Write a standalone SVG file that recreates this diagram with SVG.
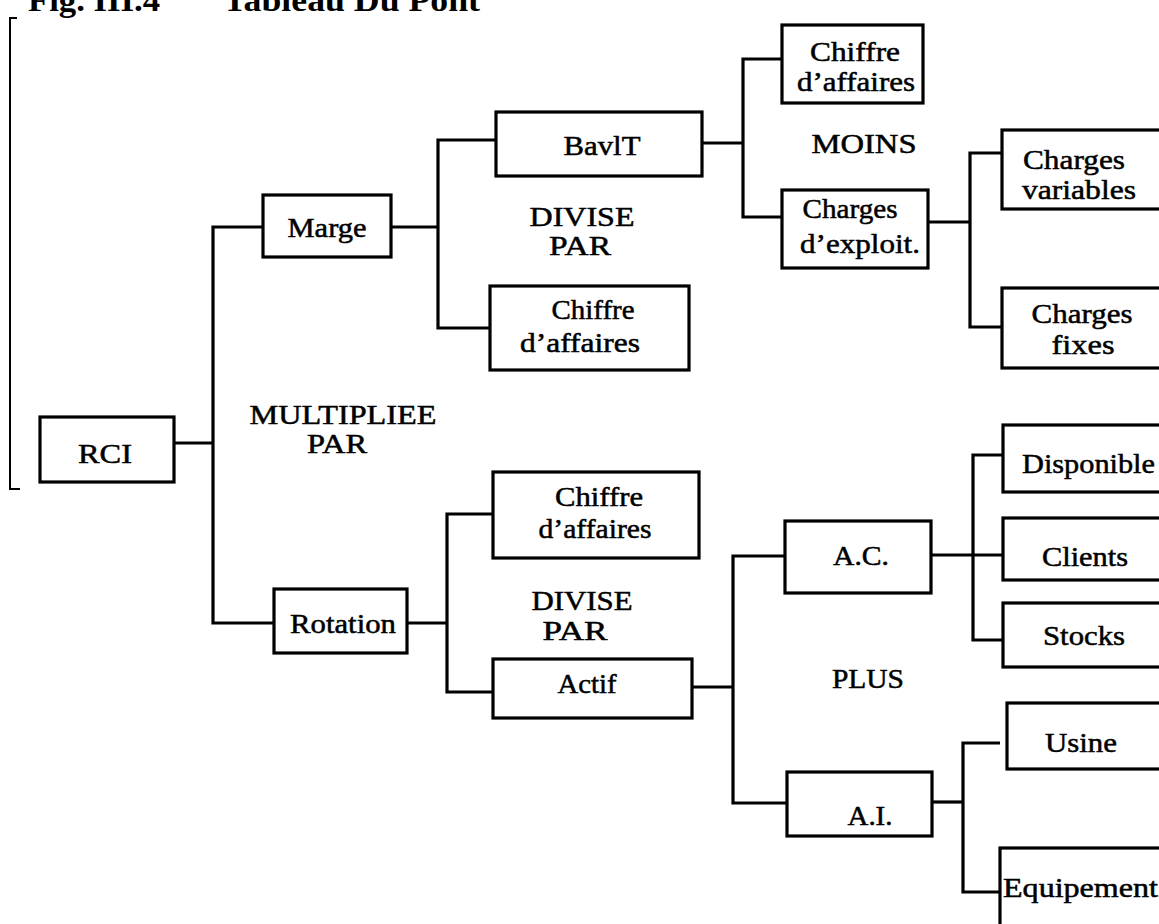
<svg xmlns="http://www.w3.org/2000/svg" width="1159" height="924" viewBox="0 0 1159 924">
<style>
.box{fill:#fff;stroke:#000;stroke-width:3.2}
.t{font-family:"Liberation Serif","Times New Roman",serif;font-size:27px;fill:#000;stroke:#000;stroke-width:0.5;text-anchor:middle}
.tl{font-family:"Liberation Serif","Times New Roman",serif;font-size:27px;fill:#000;stroke:#000;stroke-width:0.5}
.title{font-family:"Liberation Serif","Times New Roman",serif;font-size:32px;font-weight:bold;fill:#000}
.c{fill:none;stroke:#000;stroke-width:3.2}
</style>
<rect width="1159" height="924" fill="#fff"/>
<g id="title">
<text class="title" x="28" y="11" textLength="132" lengthAdjust="spacingAndGlyphs">Fig. III.4</text>
<text class="title" x="223" y="11" textLength="257" lengthAdjust="spacingAndGlyphs">Tableau Du Pont</text>
<path d="M17 18 H10 V489 H20" fill="none" stroke="#000" stroke-width="2"/>
</g>
<g id="connectors">
<path class="c" d="M174 443 H213"/>
<path class="c" d="M263 227 H213 V623 H274"/>
<path class="c" d="M391 227 H438"/>
<path class="c" d="M496 140 H438 V328 H490"/>
<path class="c" d="M407 623 H447"/>
<path class="c" d="M493 514 H447 V692 H493"/>
<path class="c" d="M702 143 H743"/>
<path class="c" d="M782 59 H743 V217 H782"/>
<path class="c" d="M928 222 H970"/>
<path class="c" d="M1002 153 H970 V327 H1002"/>
<path class="c" d="M692 687 H733"/>
<path class="c" d="M785 556 H733 V803 H787"/>
<path class="c" d="M931 555 H1003"/>
<path class="c" d="M1003 455 H973 V640 H1003"/>
<path class="c" d="M932 802 H963"/>
<path class="c" d="M1000 743 H963 V892 H1000"/>
</g>
<g id="labels">
<text class="t" x="343" y="424" textLength="187" lengthAdjust="spacingAndGlyphs">MULTIPLIEE</text>
<text class="t" x="337" y="453" textLength="60" lengthAdjust="spacingAndGlyphs">PAR</text>
<text class="t" x="582" y="226" textLength="105" lengthAdjust="spacingAndGlyphs">DIVISE</text>
<text class="t" x="580" y="255" textLength="62" lengthAdjust="spacingAndGlyphs">PAR</text>
<text class="t" x="582" y="610" textLength="101" lengthAdjust="spacingAndGlyphs">DIVISE</text>
<text class="t" x="575" y="640" textLength="65" lengthAdjust="spacingAndGlyphs">PAR</text>
<text class="t" x="864" y="153" textLength="105" lengthAdjust="spacingAndGlyphs">MOINS</text>
<text class="t" x="868" y="688" textLength="72" lengthAdjust="spacingAndGlyphs">PLUS</text>
</g>
<g id="n-rci"><rect class="box" x="40" y="417" width="134" height="65"/><text class="t" x="105" y="463" textLength="54" lengthAdjust="spacingAndGlyphs">RCI</text></g>
<g id="n-marge"><rect class="box" x="263" y="195" width="128" height="62"/><text class="t" x="327" y="237" textLength="79" lengthAdjust="spacingAndGlyphs">Marge</text></g>
<g id="n-rotation"><rect class="box" x="274" y="589" width="133" height="64"/><text class="t" x="343" y="633" textLength="106" lengthAdjust="spacingAndGlyphs">Rotation</text></g>
<g id="n-bavit"><rect class="box" x="496" y="112" width="206" height="64"/><text class="t" x="602" y="155" textLength="77" lengthAdjust="spacingAndGlyphs">BavlT</text></g>
<g id="n-ca1"><rect class="box" x="490" y="286" width="199" height="84"/><text class="t" x="593" y="319" textLength="83" lengthAdjust="spacingAndGlyphs">Chiffre</text><text class="t" x="580" y="352" textLength="120" lengthAdjust="spacingAndGlyphs">d’affaires</text></g>
<g id="n-ca2"><rect class="box" x="493" y="472" width="206" height="86"/><text class="t" x="599" y="506" textLength="88" lengthAdjust="spacingAndGlyphs">Chiffre</text><text class="t" x="595" y="538" textLength="113" lengthAdjust="spacingAndGlyphs">d’affaires</text></g>
<g id="n-actif"><rect class="box" x="493" y="659" width="199" height="59"/><text class="t" x="587" y="693" textLength="59" lengthAdjust="spacingAndGlyphs">Actif</text></g>
<g id="n-ca3"><rect class="box" x="782" y="25" width="141" height="78"/><text class="t" x="855" y="61" textLength="90" lengthAdjust="spacingAndGlyphs">Chiffre</text><text class="t" x="856" y="91" textLength="118" lengthAdjust="spacingAndGlyphs">d’affaires</text></g>
<g id="n-chexp"><rect class="box" x="782" y="190" width="146" height="78"/><text class="t" x="850" y="218" textLength="95" lengthAdjust="spacingAndGlyphs">Charges</text><text class="t" x="860" y="253" textLength="120" lengthAdjust="spacingAndGlyphs">d’exploit.</text></g>
<g id="n-ac"><rect class="box" x="785" y="521" width="146" height="72"/><text class="t" x="861" y="565" textLength="56" lengthAdjust="spacingAndGlyphs">A.C.</text></g>
<g id="n-ai"><rect class="box" x="787" y="772" width="145" height="64"/><text class="t" x="870" y="825" textLength="45" lengthAdjust="spacingAndGlyphs">A.I.</text></g>
<g id="n-chvar"><rect class="box" x="1002" y="130" width="170" height="79"/><text class="tl" x="1023" y="169" textLength="102" lengthAdjust="spacingAndGlyphs">Charges</text><text class="tl" x="1022" y="199" textLength="114" lengthAdjust="spacingAndGlyphs">variables</text></g>
<g id="n-chfix"><rect class="box" x="1002" y="288" width="170" height="80"/><text class="t" x="1082" y="323" textLength="101" lengthAdjust="spacingAndGlyphs">Charges</text><text class="t" x="1083" y="354" textLength="63" lengthAdjust="spacingAndGlyphs">fixes</text></g>
<g id="n-dispo"><rect class="box" x="1003" y="425" width="170" height="67"/><text class="tl" x="1022" y="473" textLength="133" lengthAdjust="spacingAndGlyphs">Disponible</text></g>
<g id="n-clients"><rect class="box" x="1003" y="518" width="170" height="62"/><text class="t" x="1085" y="566" textLength="86" lengthAdjust="spacingAndGlyphs">Clients</text></g>
<g id="n-stocks"><rect class="box" x="1003" y="603" width="170" height="64"/><text class="t" x="1084" y="645" textLength="82" lengthAdjust="spacingAndGlyphs">Stocks</text></g>
<g id="n-usine"><rect class="box" x="1007" y="703" width="170" height="66"/><text class="t" x="1081" y="752" textLength="72" lengthAdjust="spacingAndGlyphs">Usine</text></g>
<g id="n-equip"><rect class="box" x="1000" y="848" width="175" height="90"/><text class="tl" x="1003" y="897" textLength="155" lengthAdjust="spacingAndGlyphs">Equipement</text></g>
</svg>
